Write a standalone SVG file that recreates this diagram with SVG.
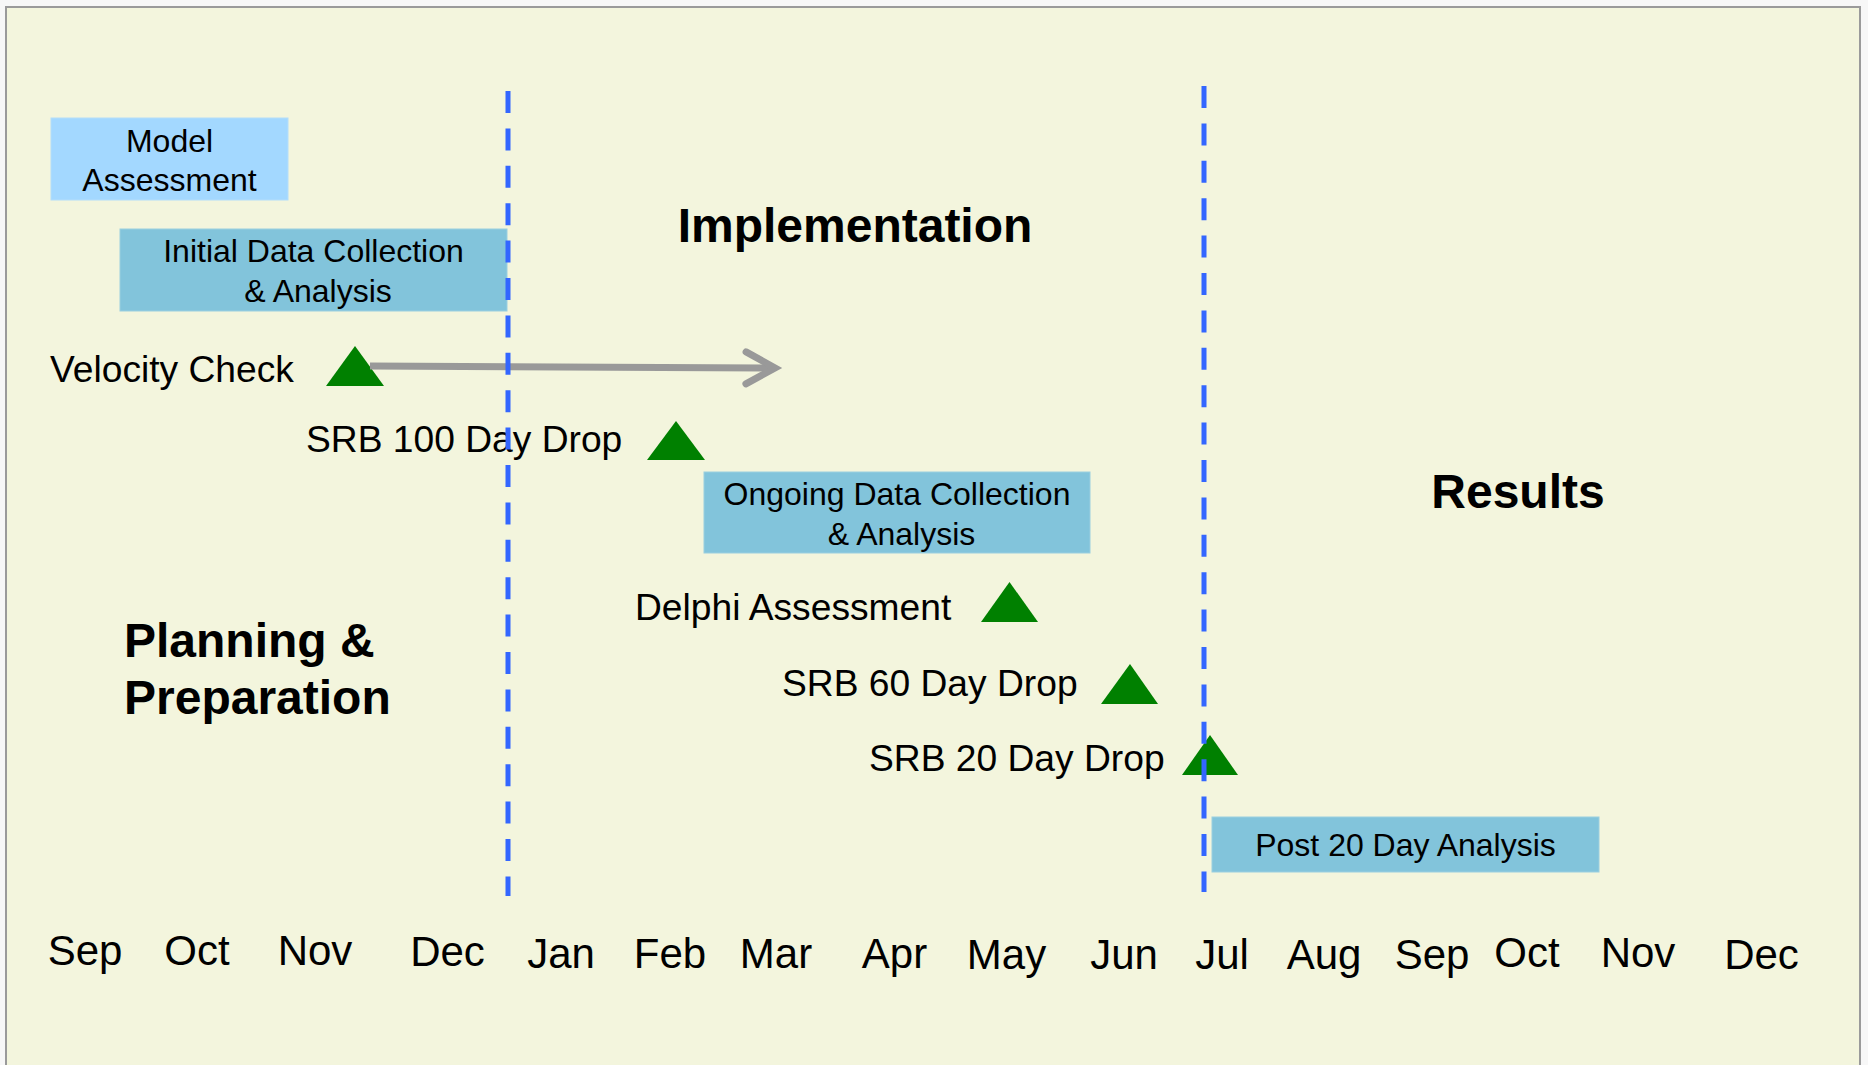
<svg xmlns="http://www.w3.org/2000/svg" width="1868" height="1065" viewBox="0 0 1868 1065">
<style>
.txt{font-family:"Liberation Sans",Arial,sans-serif;fill:#000}
.box{font-size:32px;text-anchor:middle}
.lbl{font-size:37.2px}
.phase{font-size:48px;font-weight:bold}
.mon{font-size:42px;text-anchor:middle}
.tri{fill:#008000}
.dash{stroke:#3366FF;stroke-width:5;stroke-dasharray:22 15.4;fill:none}
</style>
<defs>
<marker id="chev" markerUnits="userSpaceOnUse" viewBox="-40 -25 50 50" refX="0" refY="0" markerWidth="50" markerHeight="50" orient="auto">
<path d="M-29,-16 L0,0 L-29,16" fill="none" stroke="#999999" stroke-width="7" stroke-linecap="round"/>
</marker>
</defs>
<rect x="0" y="0" width="1868" height="1065" fill="#F7F7F7"/>
<rect x="6" y="7" width="1854" height="1070" fill="#F3F5DD" stroke="#9A9A9A" stroke-width="2"/>

<g id="model-assessment">
<rect x="51" y="118" width="237" height="82" fill="#A3D8FF" stroke="#B4DEFA" stroke-width="1"/>
<text class="txt box" x="169.5" y="152">Model</text>
<text class="txt box" x="169.5" y="191">Assessment</text>
</g>
<g id="initial-data">
<rect x="120" y="229" width="387" height="82" fill="#82C4DB" stroke="#9ACFE0" stroke-width="1"/>
<text class="txt box" x="313.5" y="262">Initial Data Collection</text>
<text class="txt box" x="318" y="301.5">&amp; Analysis</text>
</g>
<g id="ongoing-data">
<rect x="704" y="472" width="386" height="81" fill="#82C4DB" stroke="#9ACFE0" stroke-width="1"/>
<text class="txt box" x="897" y="505">Ongoing Data Collection</text>
<text class="txt box" x="901.5" y="544.5">&amp; Analysis</text>
</g>
<g id="post-20">
<rect x="1212" y="817" width="387" height="55" fill="#82C4DB" stroke="#9ACFE0" stroke-width="1"/>
<text class="txt box" x="1405.5" y="856">Post 20 Day Analysis</text>
</g>

<g id="velocity-check">
<text class="txt lbl" x="50" y="382">Velocity Check</text>
<polygon class="tri" points="326,386 355,346 384,386"/>
</g>
<g id="srb-100">
<text class="txt lbl" x="306" y="452">SRB 100 Day Drop</text>
<polygon class="tri" points="647,460 676,421 705,460"/>
</g>
<g id="delphi">
<text class="txt lbl" x="635" y="620">Delphi Assessment</text>
<polygon class="tri" points="981,622 1009.5,582 1038,622"/>
</g>
<g id="srb-60">
<text class="txt lbl" x="782" y="696">SRB 60 Day Drop</text>
<polygon class="tri" points="1101,704 1130,664 1158,704"/>
</g>
<g id="srb-20">
<text class="txt lbl" x="869" y="771">SRB 20 Day Drop</text>
<polygon class="tri" points="1182,775 1210,735 1238,775"/>
</g>

<g id="phase-planning">
<text class="txt phase" x="124" y="657">Planning &amp;</text>
<text class="txt phase" x="124" y="714">Preparation</text>
</g>
<g id="phase-implementation">
<text class="txt phase" x="855" y="242" text-anchor="middle">Implementation</text>
</g>
<g id="phase-results">
<text class="txt phase" x="1518" y="508" text-anchor="middle">Results</text>
</g>

<g id="months">
<text class="txt mon" x="85" y="965">Sep</text>
<text class="txt mon" x="197" y="965">Oct</text>
<text class="txt mon" x="315" y="965">Nov</text>
<text class="txt mon" x="447.5" y="966">Dec</text>
<text class="txt mon" x="561" y="968">Jan</text>
<text class="txt mon" x="670" y="968">Feb</text>
<text class="txt mon" x="776" y="968">Mar</text>
<text class="txt mon" x="894.5" y="968">Apr</text>
<text class="txt mon" x="1006.5" y="969">May</text>
<text class="txt mon" x="1124" y="969">Jun</text>
<text class="txt mon" x="1222" y="969">Jul</text>
<text class="txt mon" x="1324" y="969">Aug</text>
<text class="txt mon" x="1432" y="969">Sep</text>
<text class="txt mon" x="1527" y="967">Oct</text>
<text class="txt mon" x="1638" y="967">Nov</text>
<text class="txt mon" x="1761.5" y="969">Dec</text>
</g>

<g id="connectors">
<line x1="370" y1="366" x2="775" y2="368" stroke="#999999" stroke-width="7" marker-end="url(#chev)"/>
</g>

<g id="phase-dividers">
<line class="dash" x1="508" y1="91" x2="508" y2="896"/>
<line class="dash" x1="1204" y1="86" x2="1204" y2="892"/>
</g>
</svg>
